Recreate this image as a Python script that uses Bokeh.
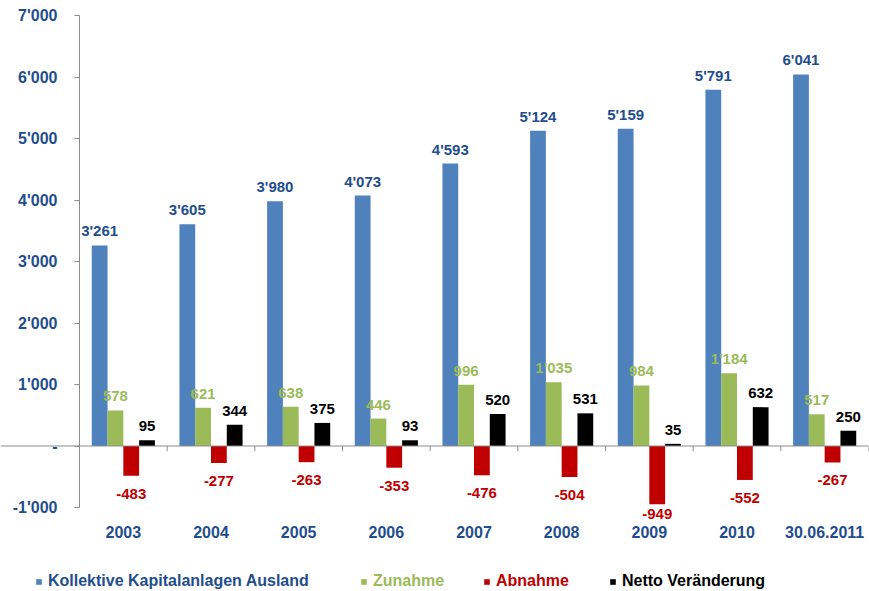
import numpy as np
from bokeh.plotting import figure
from bokeh.models import (Range1d, FixedTicker, Span, ColumnDataSource, LabelSet,
                          Legend, LegendItem)
from bokeh.core.properties import value
from bokeh.embed import file_html
from bokeh.resources import INLINE

categories = ["2003", "2004", "2005", "2006", "2007", "2008", "2009", "2010", "30.06.2011"]
kollektive = [3261, 3605, 3980, 4073, 4593, 5124, 5159, 5791, 6041]
zunahme = [578, 621, 638, 446, 996, 1035, 984, 1184, 517]
abnahme = [-483, -277, -263, -353, -476, -504, -949, -552, -267]
netto = [95, 344, 375, 93, 520, 531, 35, 632, 250]

series_names = ["Kollektive Kapitalanlagen Ausland", "Zunahme", "Abnahme", "Netto Veränderung"]
y_ticks = [-1000, 0, 1000, 2000, 3000, 4000, 5000, 6000, 7000]
y_tick_labels = ["-1'000", "-", "1'000", "2'000", "3'000", "4'000", "5'000", "6'000", "7'000"]

bar_colors = ["#4F81BD", "#9BBB59", "#C00000", "#000000"]
label_colors = ["#1F4E8C", "#9BBB59", "#C00000", "#000000"]
axis_text = "#1F4E8C"
FONT = "Liberation Sans"


def fmt(v):
    s = f"{abs(v):,}".replace(",", "'")
    return ("-" if v < 0 else "") + s


n = len(categories)
centers = np.arange(n) + 0.5
bw = 0.18
offsets = [-1.5 * bw, -0.5 * bw, 0.5 * bw, 1.5 * bw]

W, H = 869, 591
left_px, top_px, right_px = 79, 15, 1
y_min, y_max = y_ticks[0], y_ticks[-1]
# the frame covers the whole page; the axis is pinned at x=0 so that the
# category labels and the legend can sit inside the frame
px_per_y = 61.5 / 1000.0
y_end = y_max + top_px / px_per_y
y_start = y_max - (H - top_px) / px_per_y
px_per_x = (W - left_px - right_px) / n
x_start = -left_px / px_per_x

p = figure(width=W, height=H, x_range=Range1d(x_start, n), y_range=Range1d(y_start, y_end),
           min_border_left=0, min_border_right=right_px, min_border_top=0,
           min_border_bottom=0, x_axis_location=None,
           output_backend="svg", toolbar_location=None)
p.outline_line_color = None
p.xgrid.visible = False
p.ygrid.visible = False
p.background_fill_color = "white"
p.border_fill_color = "white"

renderers = []
all_series = [kollektive, zunahme, abnahme, netto]
for vals, off, col in zip(all_series, offsets, bar_colors):
    src = ColumnDataSource(dict(x=centers + off, top=vals))
    r = p.vbar(x="x", top="top", bottom=0, width=bw, source=src, fill_color=col, line_color=None)
    renderers.append(r)

# value labels (negative labels sit below the bar, but are kept above the axis bottom)
for i, (vals, off, lcol) in enumerate(zip(all_series, offsets, label_colors)):
    neg = i == 2
    v = np.asarray(vals, dtype=float)
    if neg:
        ly = np.maximum(v - 13 / px_per_y, y_min - 1 / px_per_y)
    else:
        ly = v
    src = ColumnDataSource(dict(x=centers + off, y=ly, lab=[fmt(x) for x in vals]))
    ls = LabelSet(x="x", y="y", text="lab", source=src, text_align="center",
                  text_baseline="top" if neg else "alphabetic",
                  y_offset=0 if neg else 9,
                  text_font=value(FONT), text_font_style="bold", text_font_size="15px",
                  text_color=lcol)
    p.add_layout(ls)

# zero line and category boundary ticks
p.add_layout(Span(location=0, dimension="width", line_color="#8C8C8C", line_width=1))
bounds = np.arange(1, n + 1)
p.segment(x0=bounds, y0=np.zeros(n), x1=bounds, y1=np.full(n, -85.0),
          line_color="#8C8C8C", line_width=1)

# category labels under the axis bottom
p.text(x=centers, y=np.full(n, float(y_min)), text=categories, text_align="center",
       text_baseline="top", y_offset=18, text_font=value(FONT), text_font_style="bold",
       text_font_size="16px", text_color=axis_text)

# y axis pinned at x = 0
ya = p.yaxis[0]
ya.fixed_location = 0
ya.bounds = (y_min, y_max)
ya.ticker = FixedTicker(ticks=y_ticks)
ya.major_label_overrides = {t: l for t, l in zip(y_ticks, y_tick_labels)}
ya.axis_line_color = "#8C8C8C"
ya.major_tick_line_color = "#8C8C8C"
ya.major_tick_in = 0
ya.major_tick_out = 5
ya.minor_tick_line_color = None
ya.major_label_standoff = 17
ya.major_label_text_font = FONT
ya.major_label_text_font_style = "bold"
ya.major_label_text_font_size = "16px"
ya.major_label_text_color = axis_text

# legends (one per item, to color the texts individually)
legend_x = [35, 360, 483, 609]
for r, name, lcol, lx in zip(renderers, series_names, label_colors, legend_x):
    lg = Legend(items=[LegendItem(label=name, renderers=[r])], location=(lx, 1),
                orientation="horizontal", border_line_color=None, background_fill_alpha=0,
                padding=0, margin=0, glyph_width=7, glyph_height=7, label_standoff=6,
                label_text_font=FONT, label_text_font_style="bold",
                label_text_font_size="16px", label_text_color=lcol)
    p.add_layout(lg)

open("out.html", "w").write(file_html(p, INLINE))
